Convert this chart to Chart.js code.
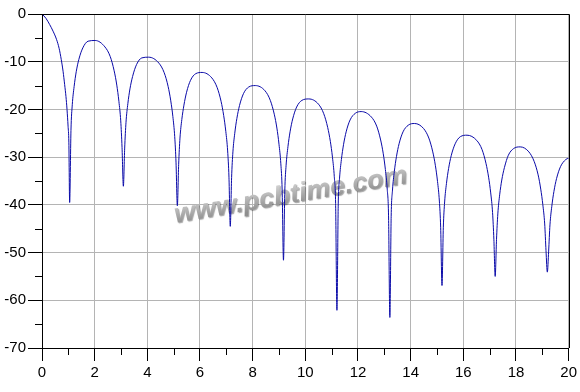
<!DOCTYPE html>
<html>
<head>
<meta charset="utf-8">
<script src="https://cdn.jsdelivr.net/npm/chart.js@4.4.0/dist/chart.umd.min.js"></script>
<style>
  html, body { margin: 0; padding: 0; background: #fff; }
</style>
</head>
<body>
<canvas id="chart" width="580" height="392"></canvas>
<script>
  // one lobe per pair of arrays, frequency / magnitude in dB
  var lobe0X = [0, 0.15, 0.29, 0.42, 0.55, 0.65, 0.73, 0.80, 0.86, 0.91, 0.95, 0.99, 1.02, 1.05];
  var lobe0Y = [0, -0.9, -2.2, -3.6, -5.3, -7.2, -9.5, -12.0, -14.8, -17.3, -20.0, -23.5, -27.0, -39.5];

  var lobe1X = [1.10, 1.15, 1.22, 1.30, 1.40, 1.55, 1.75, 2.02, 2.39, 2.59, 2.74, 2.84, 2.92, 2.99, 3.04, 3.09];
  var lobe1Y = [-24.4, -19.0, -15.2, -12.1, -9.5, -7.1, -5.7, -5.55, -6.9, -8.9, -11.9, -14.9, -18.3, -22.4, -28.0, -36.1];

  var lobe2X = [3.14, 3.19, 3.26, 3.34, 3.44, 3.59, 3.79, 4.05, 4.44, 4.64, 4.79, 4.89, 4.97, 5.04, 5.09, 5.14];
  var lobe2Y = [-28.1, -22.7, -18.8, -15.7, -13.1, -10.6, -9.2, -9.05, -10.3, -12.3, -15.2, -18.2, -21.5, -25.7, -31.2, -40.2];

  var lobe3X = [5.19, 5.24, 5.31, 5.39, 5.49, 5.64, 5.84, 6.08, 6.45, 6.65, 6.80, 6.90, 6.98, 7.05, 7.10, 7.15];
  var lobe3Y = [-31.5, -26.0, -22.1, -19.1, -16.4, -13.9, -12.5, -12.25, -13.4, -15.4, -18.3, -21.3, -24.6, -28.7, -34.2, -44.5];

  var lobe4X = [7.20, 7.25, 7.32, 7.40, 7.50, 7.65, 7.85, 8.10, 8.47, 8.67, 8.82, 8.92, 9.00, 9.07, 9.12, 9.17];
  var lobe4Y = [-34.3, -28.9, -25.0, -21.9, -19.2, -16.7, -15.3, -15.0, -16.1, -18.1, -21.0, -23.9, -27.3, -31.4, -36.9, -51.6];

  var lobe5X = [9.22, 9.27, 9.34, 9.42, 9.52, 9.67, 9.87, 10.13, 10.50, 10.70, 10.85, 10.95, 11.03, 11.10, 11.15, 11.20];
  var lobe5Y = [-37.1, -31.7, -27.8, -24.7, -22.0, -19.5, -18.1, -17.8, -18.9, -20.9, -23.8, -26.7, -30.0, -34.1, -39.7, -62.1];

  var lobe6X = [11.25, 11.30, 11.37, 11.45, 11.55, 11.70, 11.90, 12.12, 12.51, 12.71, 12.86, 12.96, 13.04, 13.11, 13.16, 13.21];
  var lobe6Y = [-39.8, -34.4, -30.5, -27.4, -24.7, -22.2, -20.8, -20.45, -21.6, -23.5, -26.4, -29.3, -32.6, -36.7, -42.3, -63.6];

  var lobe7X = [13.26, 13.31, 13.38, 13.46, 13.56, 13.71, 13.91, 14.15, 14.49, 14.69, 14.84, 14.94, 15.02, 15.09, 15.14, 15.19];
  var lobe7Y = [-42.4, -36.9, -33.0, -29.9, -27.2, -24.7, -23.3, -22.95, -24.0, -26.0, -28.9, -31.8, -35.1, -39.2, -44.8, -56.9];

  var lobe8X = [15.24, 15.29, 15.36, 15.44, 15.54, 15.69, 15.89, 16.14, 16.51, 16.71, 16.86, 16.96, 17.04, 17.11, 17.16, 17.21];
  var lobe8Y = [-44.8, -39.4, -35.5, -32.4, -29.7, -27.2, -25.7, -25.4, -26.5, -28.4, -31.3, -34.2, -37.5, -41.6, -47.2, -55.0];

  var lobe9X = [17.26, 17.31, 17.38, 17.46, 17.56, 17.71, 17.91, 18.16, 18.49, 18.69, 18.84, 18.94, 19.02, 19.09, 19.14, 19.19];
  var lobe9Y = [-47.3, -41.9, -37.9, -34.8, -32.2, -29.6, -28.2, -27.85, -28.9, -30.9, -33.7, -36.7, -40.0, -44.0, -49.6, -54.1];

  var lobe10X = [19.24, 19.29, 19.36, 19.44, 19.54, 19.69, 19.89, 20.00];
  var lobe10Y = [-49.7, -44.2, -40.3, -37.2, -34.5, -32.0, -30.5, -30.2];

  var xMajor = [0, 2, 4, 6, 8, 10, 12, 14, 16, 18, 20];
  var yMajor = [0, -10, -20, -30, -40, -50, -60, -70];

  var watermark = 'www.pcbtime.com';

  var lobesX = [lobe0X, lobe1X, lobe2X, lobe3X, lobe4X, lobe5X, lobe6X, lobe7X, lobe8X, lobe9X, lobe10X];
  var lobesY = [lobe0Y, lobe1Y, lobe2Y, lobe3Y, lobe4Y, lobe5Y, lobe6Y, lobe7Y, lobe8Y, lobe9Y, lobe10Y];
  var points = [];
  lobesX.forEach(function (xs, k) {
    xs.forEach(function (x, i) {
      points.push({ x: x, y: lobesY[k][i] });
    });
  });

  var GRID = '#b4b4b4';
  var CLEAR = 'rgba(0,0,0,0)';
  var FONT = { family: '"Liberation Sans", Arial, sans-serif', size: 15 };

  function isMajor(list, v) {
    return list.indexOf(Math.round(v * 1000) / 1000) !== -1;
  }

  // short ticks at odd x / every 5 dB, and the black frame on top and right
  var framePlugin = {
    id: 'frame',
    beforeDatasetsDraw: function (chart) {
      var a = chart.chartArea;
      var ctx = chart.ctx;
      ctx.save();
      ctx.beginPath();
      ctx.rect(a.left, a.top, a.right - a.left, a.bottom - a.top);
      ctx.clip();
      ctx.translate(a.left + 0.254 * (a.right - a.left), a.top + 0.625 * (a.bottom - a.top));
      ctx.rotate(-0.17);
      ctx.font = 'italic bold 27px "Liberation Sans", Arial, sans-serif';
      var g = ctx.createLinearGradient(0, -20, 0, 2);
      g.addColorStop(0, '#d2d2d2');
      g.addColorStop(1, '#8e8e8e');
      ctx.shadowColor = 'rgba(0,0,0,0.35)';
      ctx.shadowOffsetX = 1;
      ctx.shadowOffsetY = 1;
      ctx.shadowBlur = 1;
      ctx.fillStyle = g;
      ctx.fillText(watermark, 0, 0);
      ctx.restore();
    },
    afterDraw: function (chart) {
      var a = chart.chartArea;
      var ctx = chart.ctx;
      var xs = chart.scales.x, ys = chart.scales.y;
      ctx.save();
      ctx.strokeStyle = '#000';
      ctx.lineWidth = 1;
      ctx.beginPath();
      xs.ticks.forEach(function (t) {
        if (isMajor(xMajor, t.value)) return;
        var px = Math.round(xs.getPixelForValue(t.value)) + 0.5;
        ctx.moveTo(px, a.bottom);
        ctx.lineTo(px, a.bottom + 7);
      });
      ys.ticks.forEach(function (t) {
        if (isMajor(yMajor, t.value)) return;
        var py = Math.round(ys.getPixelForValue(t.value)) + 0.5;
        ctx.moveTo(a.left - 7, py);
        ctx.lineTo(a.left, py);
      });
      var top = Math.round(a.top) + 0.5, right = Math.round(a.right) + 0.5;
      ctx.moveTo(a.left, top);
      ctx.lineTo(right, top);
      ctx.lineTo(right, a.bottom);
      ctx.stroke();
      ctx.restore();
    }
  };

  new Chart(document.getElementById('chart'), {
    type: 'line',
    data: {
      datasets: [{
        data: points,
        borderColor: '#0a0aa8',
        borderWidth: 1,
        pointRadius: 0,
        fill: false,
        cubicInterpolationMode: 'monotone'
      }]
    },
    options: {
      responsive: false,
      animation: false,
      devicePixelRatio: 1,
      layout: { padding: { top: 14, right: 10, left: 0, bottom: 0 } },
      plugins: { legend: { display: false }, tooltip: { enabled: false } },
      scales: {
        x: {
          type: 'linear',
          min: 0,
          max: 20,
          afterFit: function (s) { s.height = 44; },
          ticks: {
            stepSize: 1,
            autoSkip: false,
            maxRotation: 0,
            padding: 3,
            color: '#000',
            font: FONT,
            callback: function (v) { return isMajor(xMajor, v) ? String(v) : ''; }
          },
          grid: {
            color: function (c) { return isMajor(xMajor, c.tick.value) ? GRID : CLEAR; },
            tickColor: function (c) { return isMajor(xMajor, c.tick.value) ? '#000' : CLEAR; },
            tickLength: 13
          },
          border: { color: '#000', width: 1 }
        },
        y: {
          min: -70,
          max: 0,
          afterFit: function (s) { s.width = 42; },
          ticks: {
            stepSize: 5,
            autoSkip: false,
            padding: 2,
            color: '#000',
            font: FONT,
            callback: function (v) { return isMajor(yMajor, v) ? String(v) : ''; }
          },
          grid: {
            color: function (c) { return isMajor(yMajor, c.tick.value) ? GRID : CLEAR; },
            tickColor: function (c) { return isMajor(yMajor, c.tick.value) ? '#000' : CLEAR; },
            tickLength: 14
          },
          border: { color: '#000', width: 1 }
        }
      }
    },
    plugins: [framePlugin]
  });
</script>
</body>
</html>
